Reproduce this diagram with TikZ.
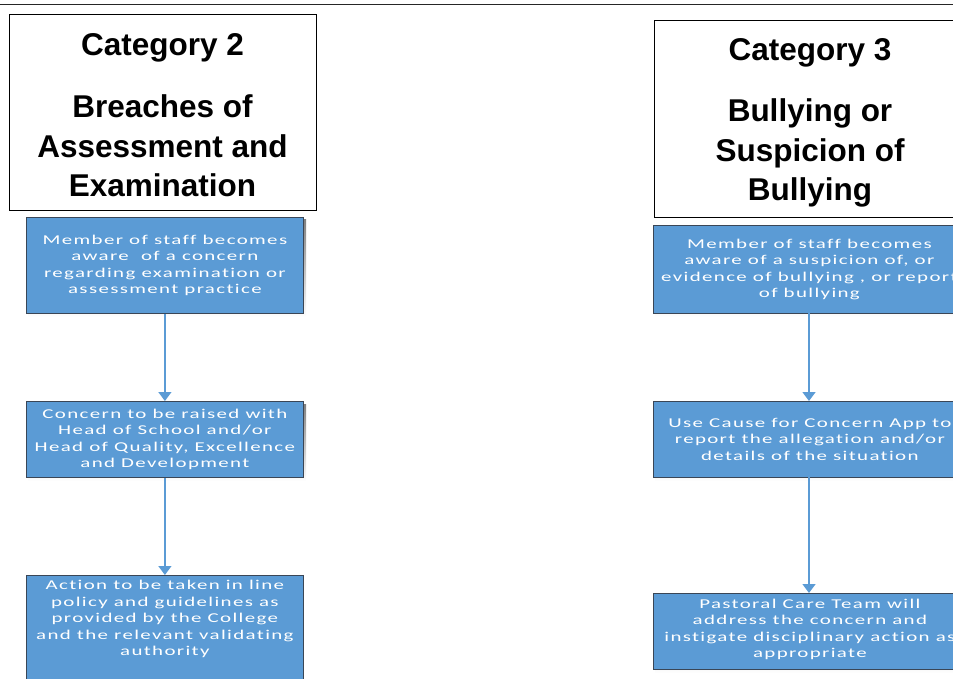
\documentclass[tikz,border=0pt]{standalone}
\usepackage{fontspec}
\usetikzlibrary{arrows.meta}
\setmainfont{Liberation Sans}
\newfontfamily\boxfont[LetterSpace=10, FakeStretch=1.55, Ligatures={NoCommon}]{Carlito}
\definecolor{boxblue}{HTML}{5B9BD5}
\definecolor{boxedge}{HTML}{3A4656}
\definecolor{shade}{HTML}{C9DDF0}
\definecolor{arrowblue}{HTML}{5B9BD5}
\tikzset{
  titlebox/.style={draw=black, line width=1.4pt, fill=white, inner sep=0pt},
  titletext/.style={font=\fontsize{31.5}{39.5}\selectfont\bfseries, align=center, inner sep=0pt},
  bluebox/.style={draw=boxedge, line width=0.8pt, fill=boxblue, inner sep=0pt},
  bluetext/.style={font=\boxfont\fontsize{13.5}{16.5}\selectfont, text=white, align=center, inner sep=0pt},
  flow/.style={draw=arrowblue, line width=1.5pt, -{Triangle[width=13pt,length=9pt]}},
}
\begin{document}
\begin{tikzpicture}[x=1pt,y=-1pt]
\useasboundingbox (0,0) rectangle (953,679);
\clip (0,0) rectangle (953,679);
% top rule
\draw[line width=1.6pt, draw=black!85] (0,4.5) -- (953,4.5);

% ---------- left column ----------
\node[titlebox, minimum width=307, minimum height=196, anchor=north west] (lt) at (9,14) {};
\node[titletext] (lt1) at (162.5,48) {Category 2};
\node[titletext, anchor=center] (lt2) at (162.5,146) {Breaches of\\Assessment and\\Examination};

\fill[shade] (28,220) rectangle (306,317);
\node[bluebox, minimum width=277, minimum height=96, anchor=north west] (l1) at (26,217) {};
\node[bluetext] (l1t) at (l1.center) {Member of staff becomes\\aware\ \ of a concern\\regarding examination or\\assessment practice};

\fill[shade] (28,404) rectangle (306,481);
\node[bluebox, minimum width=277, minimum height=76, anchor=north west] (l2) at (26,401) {};
\node[bluetext] (l2t) at (l2.center) {Concern to be raised with\\Head of School and/or\\Head of Quality, Excellence\\and Development};

\node[bluebox, minimum width=277, minimum height=120, anchor=north west] (l3) at (26,575) {};
\node[bluetext, anchor=north] (l3t) at ([yshift=-5pt]l3.north) {Action to be taken in line\\policy and guidelines as\\provided by the College\\and the relevant validating\\authority};

\draw[flow] (l1.south) -- (l2.north);
\draw[flow] (l2.south) -- (l3.north);

% ---------- right column ----------
\node[titlebox, minimum width=320, minimum height=197, anchor=north west] (rt) at (654,20) {};
\node[titletext] (rt1) at (810,53) {Category 3};
\node[titletext, anchor=center] (rt2) at (810,153) {Bullying or\\Suspicion of\\Bullying};

\fill[shade] (655,228) rectangle (970,317);
\node[bluebox, minimum width=313, minimum height=88, anchor=north west] (r1) at (653,225) {};
\node[bluetext] (r1t) at ([xshift=-0.5pt]r1.center) {Member of staff becomes\\aware of a suspicion of, or\\evidence of bullying , or report\\of bullying};

\fill[shade] (655,404) rectangle (970,481);
\node[bluebox, minimum width=313, minimum height=76, anchor=north west] (r2) at (653,401) {};
\node[bluetext] (r2t) at (r2.center) {Use Cause for Concern App to\\report the allegation and/or\\details of the situation};

\fill[shade] (655,596) rectangle (970,673);
\node[bluebox, minimum width=313, minimum height=76, anchor=north west] (r3) at (653,593) {};
\node[bluetext] (r3t) at ([yshift=2pt]r3.center) {Pastoral Care Team will\\address the concern and\\instigate disciplinary action as\\appropriate};

\coordinate (r1b) at (809,313);
\coordinate (r2a) at (809,401);
\coordinate (r2b) at (809,477);
\coordinate (r3a) at (809,593);
\draw[flow] (r1b) -- (r2a);
\draw[flow] (r2b) -- (r3a);
\end{tikzpicture}
\end{document}
